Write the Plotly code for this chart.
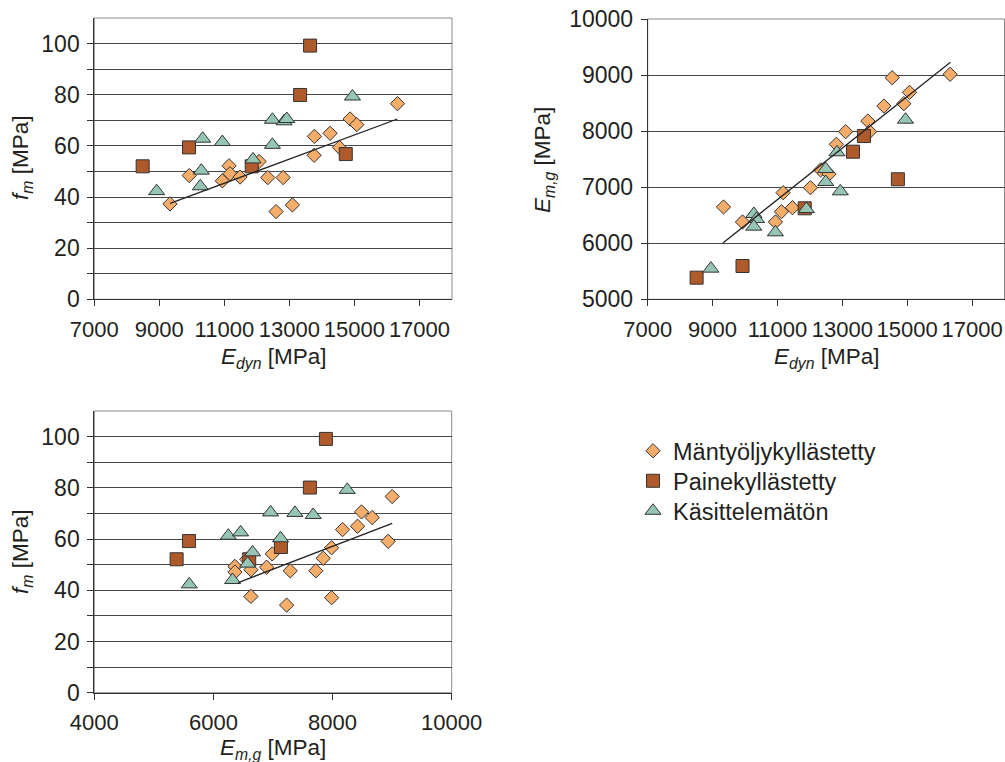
import plotly.graph_objects as go

W, H = 1005, 762

# ---------------- data ----------------
series_names = ["Mäntyöljykyllästetty", "Painekyllästetty", "Käsittelemätön"]

# Plot 1: E_dyn vs f_m
p1_mant_x = [9328, 9922, 10938, 11144, 11175, 11482, 12067, 12335, 12590, 12806, 13092,
             13769, 13759, 14251, 14538, 14866, 15072, 16323]
p1_mant_y = [37.3, 48.4, 46.3, 52.2, 49.1, 47.8, 53.9, 47.6, 34.3, 47.6, 36.9,
             63.7, 56.3, 64.9, 59.4, 70.5, 68.3, 76.5]
p1_paine_x = [8487, 9913, 11841, 13328, 13636, 14733]
p1_paine_y = [52.0, 59.4, 52.0, 79.9, 99.2, 56.8]
p1_kas_x = [8918, 10334, 10292, 10260, 10938, 11880, 12477, 12477, 12836, 12918, 14938]
p1_kas_y = [42.3, 62.8, 50.3, 44.2, 61.5, 54.7, 70.2, 60.4, 69.6, 70.5, 79.3]
p1_trend_x = [9330, 16320]
p1_trend_y = [37.5, 70.5]

# Plot 2: E_dyn vs E_m,g
p2_mant_x = [9338, 9923, 10938, 11123, 11174, 11462, 12017, 12333, 12590, 12817, 13102,
             13788, 13841, 14282, 14538, 14897, 15072, 16323]
p2_mant_y = [6647, 6379, 6379, 6563, 6902, 6634, 6991, 7307, 7235, 7765, 7990,
             8180, 7990, 8447, 8953, 8490, 8692, 9013]
p2_paine_x = [8508, 9923, 11841, 13328, 13667, 14713]
p2_paine_y = [5386, 5594, 6623, 7633, 7912, 7141]
p2_kas_x = [8949, 10272, 10354, 10272, 10938, 11892, 12487, 12487, 12836, 12938, 14948]
p2_kas_y = [5547, 6522, 6433, 6296, 6195, 6611, 7324, 7093, 7622, 6926, 8204]
p2_trend_x = [9328, 16333]
p2_trend_y = [6010, 9227]

# Plot 3: E_m,g vs f_m
p3_mant_x = [6361, 6361, 6560, 6629, 6629, 6893, 6987, 7229, 7289, 7720, 7843, 7984, 7984,
             8168, 8419, 8486, 8665, 8934, 9001]
p3_mant_y = [49.3, 47.1, 52.1, 48.0, 37.6, 49.0, 54.2, 34.2, 47.6, 47.6, 52.5, 56.6, 37.1,
             63.7, 65.0, 70.6, 68.4, 59.1, 76.6]
p3_paine_x = [5382, 5589, 6601, 7133, 7619, 7888]
p3_paine_y = [52.1, 59.2, 52.1, 56.9, 80.1, 99.1]
p3_kas_x = [5594, 6249, 6456, 6322, 6573, 6657, 6959, 7127, 7368, 7675, 8246]
p3_kas_y = [42.3, 61.3, 62.6, 44.0, 50.4, 54.8, 70.4, 60.3, 70.2, 69.4, 79.2]
p3_trend_x = [6417, 9001]
p3_trend_y = [43.0, 66.1]

# ticks
edyn_ticks = [7000, 9000, 11000, 13000, 15000, 17000]
edyn_ticktext = ["7000", "9000", "11000", "13000", "15000", "17000"]
emg_x_ticks = [4000, 6000, 8000, 10000]
emg_x_ticktext = ["4000", "6000", "8000", "10000"]
fm_tickvals = [0, 10, 20, 30, 40, 50, 60, 70, 80, 90, 100]
fm_ticktext = ["0", "", "20", "", "40", "", "60", "", "80", "", "100"]
emg_y_ticks = [5000, 6000, 7000, 8000, 9000, 10000]
emg_y_ticktext = ["5000", "6000", "7000", "8000", "9000", "10000"]

# ---------------- styling ----------------
FONT = "Liberation Sans, Arial, sans-serif"
TXT = "#231f20"
C_MANT = "#F6AD6A"
C_PAINE = "#AF5A2B"
C_KAS = "#97C5B5"
EDGE = "#333333"

fig = go.Figure()
legend_ids = ["legend", "legend2", "legend3"]


def add_panel(xa, ya, mx, my, px_, py_, kx, ky, tx, ty, show):
    fig.add_trace(go.Scatter(x=mx, y=my, mode="markers", name=series_names[0], showlegend=show,
                             legend=legend_ids[0], xaxis=xa, yaxis=ya,
                             marker=dict(symbol="diamond", size=11, color=C_MANT,
                                         line=dict(color=EDGE, width=1))))
    fig.add_trace(go.Scatter(x=px_, y=py_, mode="markers", name=series_names[1], showlegend=show,
                             legend=legend_ids[1], xaxis=xa, yaxis=ya,
                             marker=dict(symbol="square", size=13, color=C_PAINE,
                                         line=dict(color=EDGE, width=1))))
    fig.add_trace(go.Scatter(x=kx, y=ky, mode="markers", name=series_names[2], showlegend=show,
                             legend=legend_ids[2], xaxis=xa, yaxis=ya,
                             marker=dict(symbol="triangle-up", size=14, color=C_KAS,
                                         line=dict(color=EDGE, width=1))))
    fig.add_trace(go.Scatter(x=tx, y=ty, mode="lines", showlegend=False, hoverinfo="skip",
                             xaxis=xa, yaxis=ya, line=dict(color="#222222", width=1.3)))


add_panel("x", "y", p1_mant_x, p1_mant_y, p1_paine_x, p1_paine_y, p1_kas_x, p1_kas_y,
          p1_trend_x, p1_trend_y, True)
add_panel("x2", "y2", p2_mant_x, p2_mant_y, p2_paine_x, p2_paine_y, p2_kas_x, p2_kas_y,
          p2_trend_x, p2_trend_y, False)
add_panel("x3", "y3", p3_mant_x, p3_mant_y, p3_paine_x, p3_paine_y, p3_kas_x, p3_kas_y,
          p3_trend_x, p3_trend_y, False)


def px_x(v):
    return v / W


def px_y(v):
    return 1 - v / H


common_x = dict(showgrid=False, zeroline=False, showline=True, linecolor="#333333", linewidth=1,
                ticks="outside", ticklen=6, tickcolor="#333333", tickwidth=1, automargin=False,
                ticklabelstandoff=4, tickangle=0,
                tickfont=dict(family=FONT, size=22, color=TXT), fixedrange=True)
common_y = dict(showgrid=True, gridcolor="#454545", gridwidth=1, zeroline=False, showline=True,
                linecolor="#333333", linewidth=1, ticks="outside", ticklen=6, tickcolor="#333333",
                tickwidth=1, automargin=False, ticklabelstandoff=3,
                tickfont=dict(family=FONT, size=23, color=TXT), fixedrange=True)

legend_common = dict(xanchor="left", yanchor="top", font=dict(family=FONT, size=23.5, color=TXT),
                     bgcolor="rgba(0,0,0,0)", itemwidth=30, tracegroupgap=0)

fig.update_layout(
    width=W, height=H, margin=dict(l=0, r=0, t=0, b=0, pad=0, autoexpand=False),
    paper_bgcolor="white", plot_bgcolor="white",
    font=dict(family=FONT, size=22, color=TXT),
    xaxis=dict(common_x, domain=[px_x(94.3), px_x(452)], range=[7000, 18000],
               tickvals=edyn_ticks, ticktext=edyn_ticktext, anchor="y"),
    yaxis=dict(common_y, domain=[px_y(299.3), px_y(18)], range=[0, 110],
               tickvals=fm_tickvals, ticktext=fm_ticktext, anchor="x"),
    xaxis2=dict(common_x, domain=[px_x(647.7), px_x(1004.5)], range=[7000, 18000],
                tickvals=edyn_ticks, ticktext=edyn_ticktext, anchor="y2"),
    yaxis2=dict(common_y, domain=[px_y(299.3), px_y(19)], range=[5000, 10000],
                tickvals=emg_y_ticks, ticktext=emg_y_ticktext, anchor="x2"),
    xaxis3=dict(common_x, domain=[px_x(94.3), px_x(451.7)], range=[4000, 10000],
                tickvals=emg_x_ticks, ticktext=emg_x_ticktext, anchor="y3"),
    yaxis3=dict(common_y, domain=[px_y(692.7), px_y(411)], range=[0, 110],
                tickvals=fm_tickvals, ticktext=fm_ticktext, anchor="x3"),
    legend=dict(legend_common, x=px_x(633), y=px_y(429)),
    legend2=dict(legend_common, x=px_x(633), y=px_y(459)),
    legend3=dict(legend_common, x=px_x(633), y=px_y(489)),
    showlegend=True,
)

# plot frames
for xr, yr in [("x", "y"), ("x2", "y2"), ("x3", "y3")]:
    fig.add_shape(type="rect", xref=f"{xr} domain", yref=f"{yr} domain", x0=0, x1=1, y0=0, y1=1,
                  line=dict(color="#8a8a8a", width=1), fillcolor="rgba(0,0,0,0)", layer="below")

# axis titles
titles = [
    ("<i>E</i><sub><i>dyn</i></sub> [MPa]", 273, 358, 0),
    ("<i>f</i><sub><i>m</i></sub> [MPa]", 22, 158, -90),
    ("<i>E</i><sub><i>dyn</i></sub> [MPa]", 826, 358, 0),
    ("<i>E</i><sub><i>m,g</i></sub> [MPa]", 544, 160, -90),
    ("<i>E</i><sub><i>m,g</i></sub> [MPa]", 273, 749, 0),
    ("<i>f</i><sub><i>m</i></sub> [MPa]", 22, 552, -90),
]
for text, x, y, ang in titles:
    fig.add_annotation(text=text, x=px_x(x), y=px_y(y), xref="paper", yref="paper",
                       xanchor="center", yanchor="middle", showarrow=False, textangle=ang,
                       font=dict(family=FONT, size=22.5, color=TXT))

fig.write_html("out.html")
